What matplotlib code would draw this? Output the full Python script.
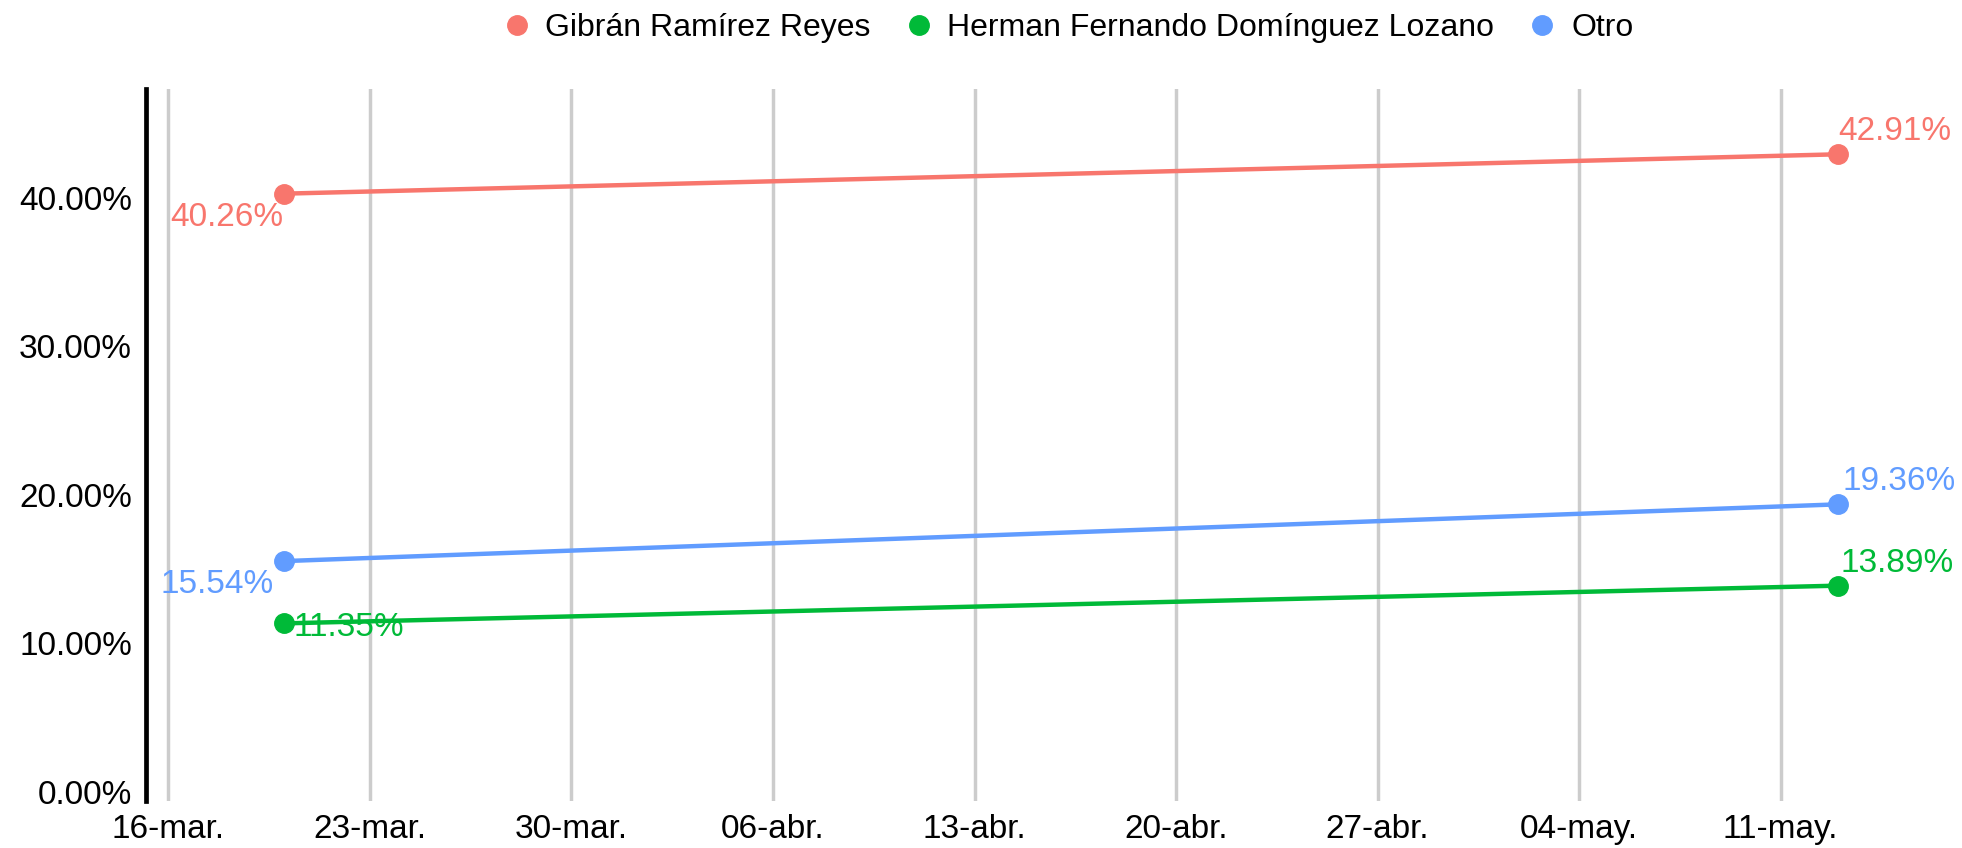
import matplotlib
matplotlib.use("Agg")
import matplotlib.pyplot as plt
import matplotlib.dates as mdates
import numpy as np
import datetime as dt

# data
fechas = [dt.date(2021, 3, 20), dt.date(2021, 5, 13)]
candidatos = ["Gibrán Ramírez Reyes", "Herman Fernando Domínguez Lozano", "Otro"]
gibran = [40.26, 42.91]
herman = [11.35, 13.89]
otro = [15.54, 19.36]
colores = ["#F8766D", "#00BA38", "#619CFF"]

# label offsets in points (first point, last point) and alignment
etiquetas = {
    0: [((0, -6), "right", "top"), ((0, 5), "left", "bottom")],
    1: [((7, -3), "left", "center"), ((2, 5), "left", "bottom")],
    2: [((-7, -6), "right", "top"), ((3, 5), "left", "bottom")],
}

meses = ["ene.", "feb.", "mar.", "abr.", "may.", "jun.",
         "jul.", "ago.", "sep.", "oct.", "nov.", "dic."]

plt.rcParams["font.family"] = ["Liberation Sans", "DejaVu Sans"]

fig = plt.figure(figsize=(19.62, 8.48), dpi=100)
ax = fig.add_axes([0.0744, 0.0554, 0.9256, 0.8396])

series = [gibran, herman, otro]
x = mdates.date2num(fechas)
for i, (nombre, vals, col) in enumerate(zip(candidatos, series, colores)):
    ax.plot(x, vals, color=col, lw=3.2, marker="o", markersize=14,
            label=nombre, zorder=3, solid_capstyle="round")
    for j in range(len(vals)):
        off, ha, va = etiquetas[i][j]
        ax.annotate(f"{vals[j]:.2f}%", (x[j], vals[j]), xytext=off,
                    textcoords="offset points", ha=ha, va=va,
                    color=col, fontsize=24, zorder=4)

# axes
ticks = [dt.date(2021, 3, 16) + dt.timedelta(days=7 * k) for k in range(9)]
ax.set_xticks(mdates.date2num(ticks))
ax.set_xticklabels([f"{t.day:02d}-{meses[t.month - 1]}" for t in ticks])
ax.set_xlim(mdates.date2num(dt.date(2021, 3, 15)) + 0.22,
            mdates.date2num(dt.date(2021, 5, 17)) + 0.3)
ax.set_ylim(-0.6, 47.3)
ax.set_yticks([0, 10, 20, 30, 40])
ax.set_yticklabels([f"{v:.2f}%" for v in [0, 10, 20, 30, 40]])

ax.grid(axis="x", color="#cccccc", lw=2.5)
ax.grid(axis="y", visible=False)
ax.set_axisbelow(True)
for s in ["top", "right", "bottom"]:
    ax.spines[s].set_visible(False)
ax.spines["left"].set_linewidth(3.4)
ax.spines["left"].set_color("black")
ax.tick_params(axis="both", length=0, labelsize=24)
ax.tick_params(axis="y", pad=10)
ax.tick_params(axis="x", pad=9)

handles = [plt.Line2D([], [], marker="o", ls="", color=c, markersize=14)
           for c in colores]
fig.legend(handles, candidatos, loc="center", bbox_to_anchor=(0.543, 0.967),
           ncol=3, frameon=False, fontsize=23, handletextpad=0.3,
           columnspacing=0.9, handlelength=1.2)

fig.savefig("out.png", dpi=100)
